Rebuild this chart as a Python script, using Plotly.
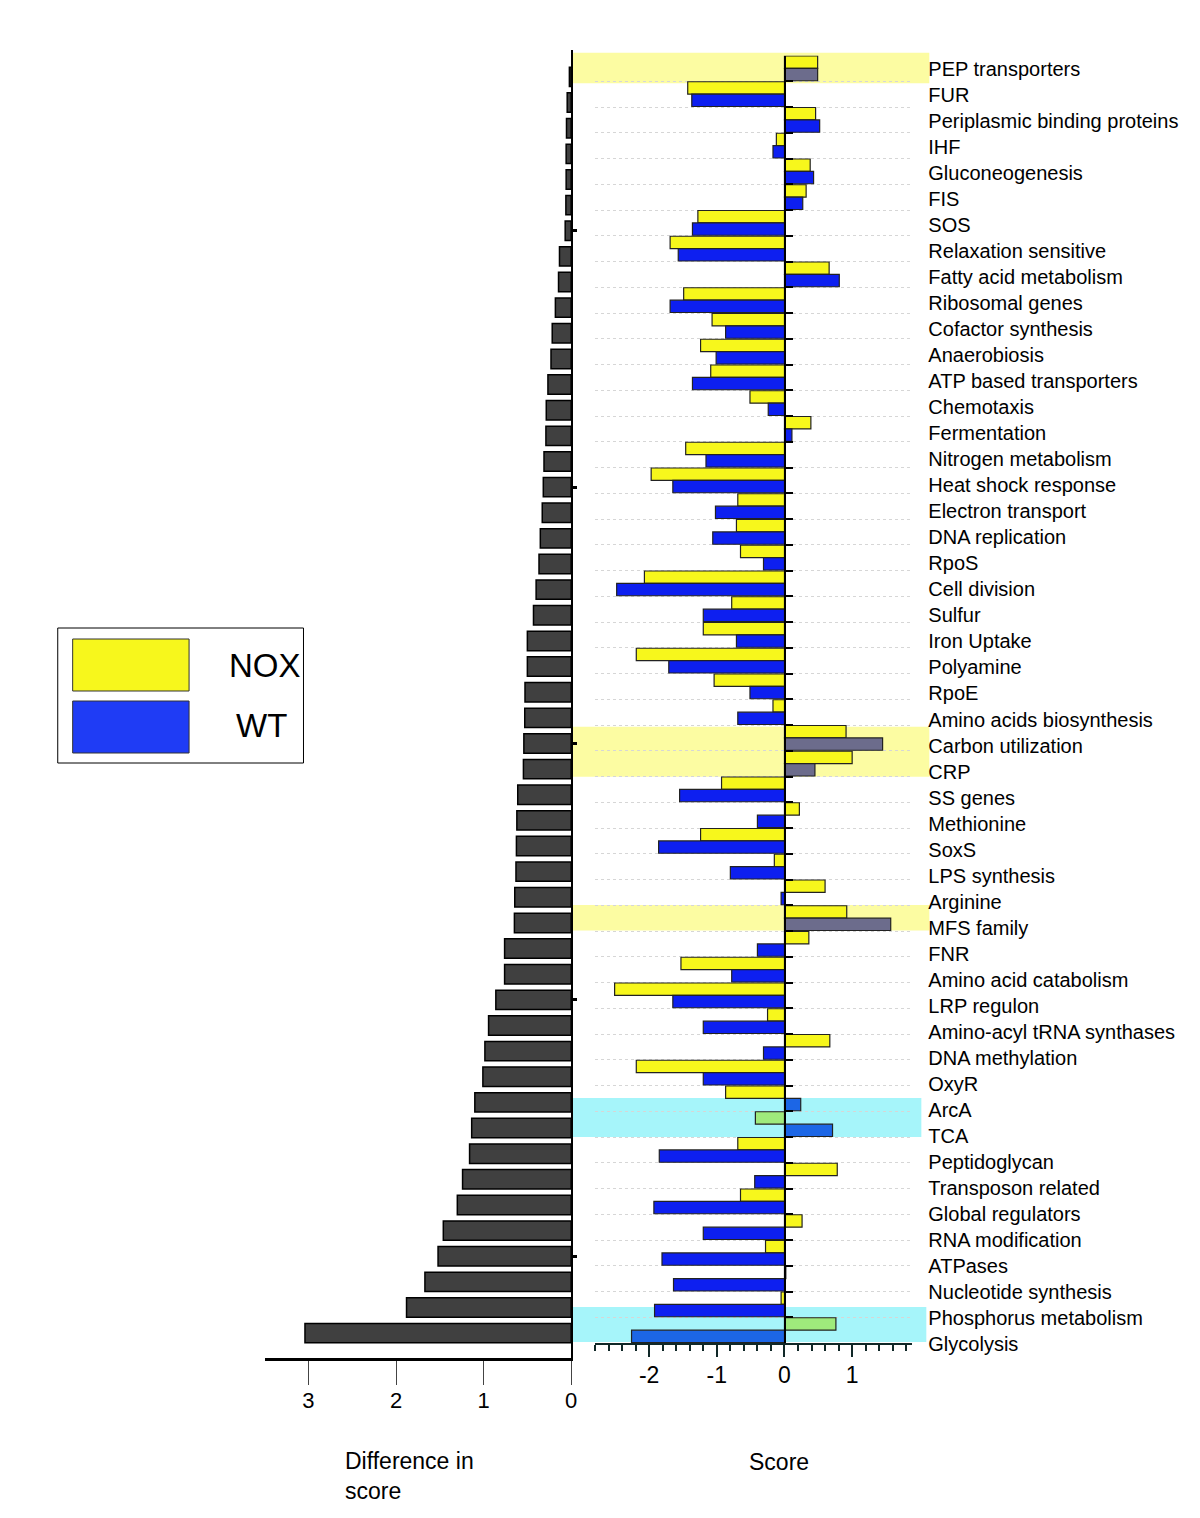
import plotly.graph_objects as go

# ---------------- data ----------------
categories = [
    "PEP transporters", "FUR", "Periplasmic binding proteins", "IHF", "Gluconeogenesis",
    "FIS", "SOS", "Relaxation sensitive", "Fatty acid metabolism", "Ribosomal genes",
    "Cofactor synthesis", "Anaerobiosis", "ATP based transporters", "Chemotaxis", "Fermentation",
    "Nitrogen metabolism", "Heat shock response", "Electron transport", "DNA replication", "RpoS",
    "Cell division", "Sulfur", "Iron Uptake", "Polyamine", "RpoE",
    "Amino acids biosynthesis", "Carbon utilization", "CRP", "SS genes", "Methionine",
    "SoxS", "LPS synthesis", "Arginine", "MFS family", "FNR",
    "Amino acid catabolism", "LRP regulon", "Amino-acyl tRNA synthases", "DNA methylation", "OxyR",
    "ArcA", "TCA", "Peptidoglycan", "Transposon related", "Global regulators",
    "RNA modification", "ATPases", "Nucleotide synthesis", "Phosphorus metabolism", "Glycolysis",
]

diff_score = [
    0.02, 0.045, 0.053, 0.057, 0.057, 0.06, 0.068, 0.133, 0.144, 0.18,
    0.216, 0.23, 0.265, 0.284, 0.288, 0.31, 0.318, 0.33, 0.352, 0.367,
    0.40, 0.43, 0.50, 0.50, 0.527, 0.53, 0.54, 0.545, 0.61, 0.62,
    0.625, 0.63, 0.644, 0.648, 0.76, 0.76, 0.86, 0.943, 0.985, 1.008,
    1.10, 1.136, 1.16, 1.24, 1.30, 1.46, 1.52, 1.67, 1.88, 3.04,
]

nox_score = [
    0.49, -1.43, 0.46, -0.12, 0.38, 0.32, -1.28, -1.69, 0.66, -1.49,
    -1.07, -1.24, -1.09, -0.51, 0.39, -1.46, -1.97, -0.69, -0.71, -0.65,
    -2.07, -0.78, -1.20, -2.19, -1.04, -0.17, 0.91, 1.00, -0.93, 0.22,
    -1.24, -0.15, 0.60, 0.92, 0.36, -1.53, -2.51, -0.25, 0.67, -2.19,
    -0.87, -0.43, -0.69, 0.78, -0.65, 0.26, -0.28, 0.02, -0.05, 0.76,
]

wt_score = [
    0.49, -1.37, 0.52, -0.17, 0.43, 0.27, -1.36, -1.57, 0.81, -1.69,
    -0.87, -1.01, -1.36, -0.24, 0.11, -1.16, -1.65, -1.02, -1.06, -0.31,
    -2.48, -1.20, -0.71, -1.71, -0.51, -0.69, 1.45, 0.45, -1.55, -0.40,
    -1.86, -0.80, -0.05, 1.57, -0.40, -0.78, -1.65, -1.20, -0.31, -1.20,
    0.24, 0.71, -1.85, -0.44, -1.93, -1.20, -1.81, -1.64, -1.92, -2.26,
]

diff_ticks = [0, 1, 2, 3]
score_ticks = [-2, -1, 0, 1]
series_names = ["NOX", "WT"]

# rows drawn inside highlight bands
yellow_band_wt = ["PEP transporters", "Carbon utilization", "CRP", "MFS family"]
cyan_band_nox = ["TCA", "Glycolysis"]
cyan_band_wt = ["ArcA", "TCA", "Glycolysis"]

# ---------------- styling ----------------
OFFX, OFFY = 5, 8            # where the figure's origin lands on the page
W, H = 1184, 1502
FONT = "Liberation Sans, Arial, Helvetica, sans-serif"
YELLOW = "#f7f71c"
BLUE = "#0d1ff0"
GRAY_BAR = "#6c6c8c"
GREEN_BAR = "#9fea7c"
LBLUE_BAR = "#1c66e6"
BAND_YELLOW = "#fcfca2"
BAND_CYAN = "#a6f5fa"
TRANSPARENT = "rgba(0,0,0,0)"


def fx(p):
    """page pixel x -> paper fraction"""
    return (p - OFFX) / W


def fy(p):
    """page pixel y -> paper fraction"""
    return 1 - (p - OFFY) / H


idx = list(range(len(categories)))

nox_colors = [GREEN_BAR if c in cyan_band_nox else YELLOW for c in categories]
wt_colors = [GRAY_BAR if c in yellow_band_wt else (LBLUE_BAR if c in cyan_band_wt else BLUE)
             for c in categories]

fig = go.Figure()

# left panel: difference in score
fig.add_trace(go.Bar(
    x=diff_score, y=idx, orientation="h", xaxis="x", yaxis="y",
    width=0.757, marker=dict(color="#404040", line=dict(color="#000000", width=1.5)),
    hoverinfo="skip", showlegend=False,
))

# right panel: scores
fig.add_trace(go.Bar(
    x=nox_score, y=idx, orientation="h", xaxis="x2", yaxis="y2", name=series_names[0],
    marker=dict(color=nox_colors, line=dict(color="#222222", width=1.2)), showlegend=False,
))
fig.add_trace(go.Bar(
    x=wt_score, y=idx, orientation="h", xaxis="x2", yaxis="y2", name=series_names[1],
    marker=dict(color=wt_colors, line=dict(color="#222222", width=1.2)), showlegend=False,
))

# invisible carrier for the category labels axis
fig.add_trace(go.Scatter(
    x=[0] * len(idx), y=idx, xaxis="x2", yaxis="y3", mode="markers",
    marker=dict(opacity=0, size=1), hoverinfo="skip", showlegend=False,
))

# highlight bands (page pixel extents)
bands = [
    (52.7, 83.3, 931, BAND_YELLOW),
    (726.7, 776.7, 931, BAND_YELLOW),
    (905, 930.5, 931, BAND_YELLOW),
    (1098, 1137, 923, BAND_CYAN),
    (1307, 1342, 928, BAND_CYAN),
]
shapes = []
for y0, y1, xr, col in bands:
    shapes.append(dict(type="rect", xref="paper", yref="paper", x0=fx(572), x1=fx(xr),
                       y0=fy(y1), y1=fy(y0), fillcolor=col, line=dict(width=0), layer="below"))

# legend box
shapes.append(dict(type="rect", xref="paper", yref="paper", x0=fx(55), x1=fx(302),
                   y0=fy(763), y1=fy(628), line=dict(color="#000000", width=1), fillcolor="white"))
shapes.append(dict(type="rect", xref="paper", yref="paper", x0=fx(70), x1=fx(187),
                   y0=fy(691), y1=fy(639), line=dict(color="#333333", width=1), fillcolor=YELLOW))
shapes.append(dict(type="rect", xref="paper", yref="paper", x0=fx(70), x1=fx(187),
                   y0=fy(753), y1=fy(701), line=dict(color="#333333", width=1), fillcolor="#1f3cf5"))

annotations = [
    dict(text=series_names[0], xref="paper", yref="paper", x=fx(263), y=fy(666),
         showarrow=False, font=dict(size=33, color="#000", family=FONT), xanchor="center", yanchor="middle"),
    dict(text=series_names[1], xref="paper", yref="paper", x=fx(260), y=fy(725),
         showarrow=False, font=dict(size=33, color="#000", family=FONT), xanchor="center", yanchor="middle"),
    dict(text="Difference in<br>score", xref="paper", yref="paper", x=fx(342), y=fy(1446),
         showarrow=False, align="left", font=dict(size=23, color="#000", family=FONT),
         xanchor="left", yanchor="top"),
    dict(text="Score", xref="paper", yref="paper", x=fx(780), y=fy(1462),
         showarrow=False, font=dict(size=23, color="#000", family=FONT),
         xanchor="center", yanchor="middle"),
]

# label axis: label i at page pixel 69 + 26.02*i inside a domain 40..1370
lab_top, lab_bot = 40, 1370
lab_pitch = (1344 - 69) / 49
lab_r0 = -(69 - lab_top) / lab_pitch
lab_r1 = lab_r0 + (lab_bot - lab_top) / lab_pitch

fig.update_layout(
    width=W, height=H,
    margin=dict(l=0, r=0, t=0, b=0),
    paper_bgcolor="white", plot_bgcolor=TRANSPARENT,
    barmode="group", bargap=0.04, bargroupgap=0,
    font=dict(family=FONT, color="#000000"),
    showlegend=False,
    shapes=shapes,
    annotations=annotations,
    xaxis=dict(
        domain=[fx(263), fx(571)], range=[3.5, 0], anchor="y",
        tickmode="array", tickvals=diff_ticks, ticktext=[str(v) for v in diff_ticks],
        ticks="outside", ticklen=24, ticklabelstandoff=-3,
        tickwidth=1, tickcolor="#444444", showline=True, linecolor="#000000", linewidth=3,
        showgrid=False, zeroline=False, tickfont=dict(size=22, family=FONT, color="#000"),
    ),
    yaxis=dict(
        domain=[fy(1358), fy(50)], range=[49.97, -1.05], anchor="x", side="right",
        showline=True, linecolor="#000000", linewidth=2,
        tickmode="array", tickvals=[6, 16, 26, 36, 46], ticks="outside", ticklen=4,
        tickwidth=3, tickcolor="#000000", showticklabels=False, showgrid=False, zeroline=False,
    ),
    xaxis2=dict(
        domain=[fx(595), fx(913.3)], range=[-2.8, 1.88], anchor="y2",
        tickmode="array", tickvals=score_ticks, ticktext=[str(v) for v in score_ticks],
        ticks="outside", ticklen=12, tickwidth=2, ticklabelstandoff=-2,
        tickcolor="#102828",
        minor=dict(dtick=0.2, tick0=0, ticks="outside", ticklen=6, tickwidth=2, tickcolor="#102828"),
        showline=True, linecolor="#102828", linewidth=2, showgrid=False, zeroline=False,
        tickfont=dict(size=23, family=FONT, color="#000"),
    ),
    yaxis2=dict(
        domain=[fy(1343), fy(55.5)], range=[49.5, -0.5], anchor="free", position=fx(785.5),
        showline=True, linecolor="#000000", linewidth=2,
        tickmode="array", tickvals=[i + 0.5 for i in idx[:-1]], ticks="inside", ticklen=7,
        tickwidth=2, tickcolor="#000000", showticklabels=False,
        showgrid=True, gridcolor="#d6d6d6", griddash="dot", gridwidth=1, zeroline=False,
    ),
    yaxis3=dict(
        domain=[fy(lab_bot), fy(lab_top)], range=[lab_r1, lab_r0], anchor="free", position=fx(929),
        side="right", tickmode="array", tickvals=idx, ticktext=categories, ticks="",
        showline=False, showgrid=False, zeroline=False,
        tickfont=dict(size=20, family=FONT, color="#000"),
    ),
)

fig.write_html("out.html")
